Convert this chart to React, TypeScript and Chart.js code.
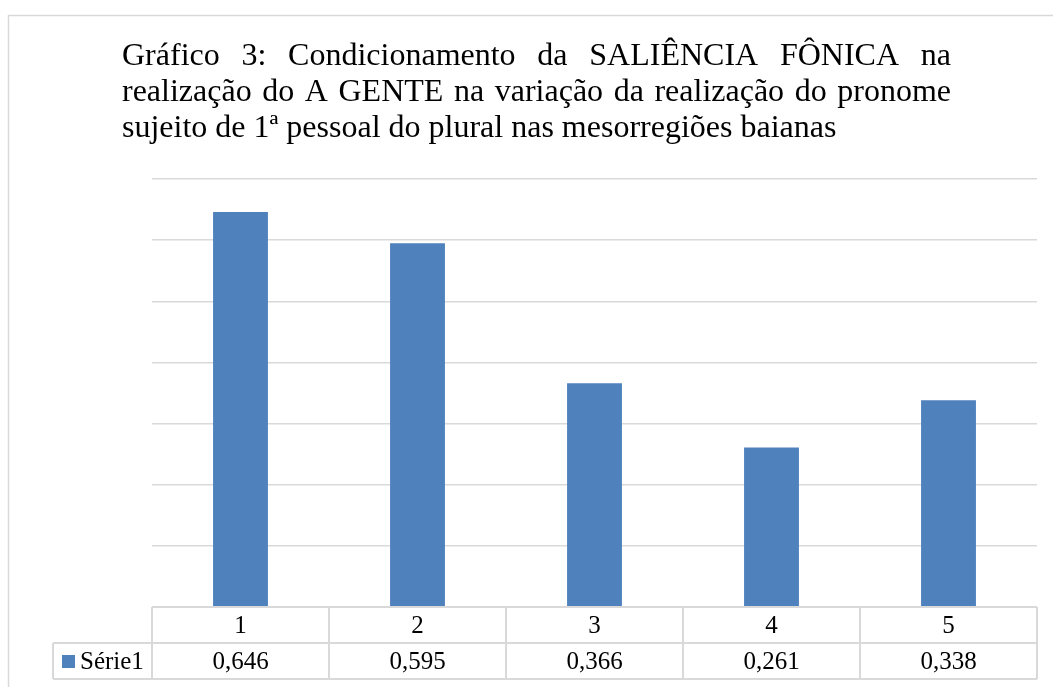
import React, { useEffect, useRef } from "react";
import { Chart, registerables } from "chart.js";

Chart.register(...registerables);

const categories = ["1", "2", "3", "4", "5"];
const values = [0.646, 0.595, 0.366, 0.261, 0.338];
const seriesName = "Série1";
const yMax = 0.7;
const yStep = 0.1;
const titleLines = [
  "Gráfico 3: Condicionamento da SALIÊNCIA FÔNICA na",
  "realização do A GENTE na variação da realização do pronome",
  "sujeito de 1ª pessoal do plural nas mesorregiões baianas",
];

const BAR_COLOR = "#4f81bd";
const LINE_COLOR = "#d9d9d9";
const SERIF = '"Liberation Serif", "Times New Roman", serif';

const fmt = (v: number) => v.toFixed(3).replace(".", ",");

const decorPlugin = {
  id: "decor",
  afterDraw(chart: any) {
    const ctx = chart.ctx as CanvasRenderingContext2D;
    const area = chart.chartArea;
    const xs = chart.scales.x;
    ctx.save();

    // outer border
    ctx.strokeStyle = LINE_COLOR;
    ctx.lineWidth = 1.5;
    ctx.strokeRect(8.5, 15.5, 1200, 800);

    // title (justified)
    ctx.fillStyle = "#000";
    ctx.font = `32px ${SERIF}`;
    ctx.textBaseline = "alphabetic";
    ctx.textAlign = "left";
    const tLeft = 122;
    const tRight = 951;
    const baselines = [65, 101, 137];
    titleLines.forEach((line, i) => {
      const words = line.split(" ");
      if (i < titleLines.length - 1) {
        const widths = words.map((w) => ctx.measureText(w).width);
        const total = widths.reduce((a, b) => a + b, 0);
        const gap = (tRight - tLeft - total) / (words.length - 1);
        let x = tLeft;
        words.forEach((w, j) => {
          ctx.fillText(w, x, baselines[i]);
          x += widths[j] + gap;
        });
      } else {
        ctx.fillText(line, tLeft, baselines[i]);
      }
    });

    // data table
    const rowH = 36;
    const top = area.bottom;
    const r1 = top + rowH;
    const r2 = r1 + rowH;
    const legLeft = 53;
    const catW = (area.right - area.left) / categories.length;
    ctx.strokeStyle = LINE_COLOR;
    ctx.lineWidth = 2;
    ctx.beginPath();
    ctx.moveTo(area.left, top);
    ctx.lineTo(area.right, top);
    ctx.moveTo(legLeft, r1);
    ctx.lineTo(area.right, r1);
    ctx.moveTo(legLeft, r2);
    ctx.lineTo(area.right, r2);
    ctx.moveTo(legLeft, r1);
    ctx.lineTo(legLeft, r2);
    for (let i = 0; i <= categories.length; i++) {
      const x = area.left + i * catW;
      ctx.moveTo(x, top);
      ctx.lineTo(x, r2);
    }
    ctx.stroke();

    ctx.fillStyle = "#000";
    ctx.font = `25px ${SERIF}`;
    ctx.textAlign = "center";
    ctx.textBaseline = "middle";
    categories.forEach((c, i) => {
      const cx = xs.getPixelForValue(i);
      ctx.fillText(c, cx, top + rowH / 2 + 1);
      ctx.fillText(fmt(values[i]), cx, r1 + rowH / 2 + 1);
    });
    // legend cell
    ctx.fillStyle = BAR_COLOR;
    ctx.fillRect(62, 655, 13, 13);
    ctx.fillStyle = "#000";
    ctx.textAlign = "left";
    ctx.fillText(seriesName, 80, r1 + rowH / 2 + 1);
    ctx.restore();
  },
};

export default function App() {
  const ref = useRef<HTMLCanvasElement | null>(null);
  useEffect(() => {
    if (!ref.current) return;
    const chart = new Chart(ref.current, {
      type: "bar",
      data: {
        labels: categories,
        datasets: [
          {
            label: seriesName,
            data: values,
            backgroundColor: BAR_COLOR,
            borderWidth: 0,
            barPercentage: 0.31,
            categoryPercentage: 1,
          },
        ],
      },
      options: {
        responsive: false,
        animation: false,
        layout: { padding: { left: 152, right: 16, top: 179, bottom: 80 } },
        plugins: { legend: { display: false }, tooltip: { enabled: false }, title: { display: false } },
        scales: {
          x: {
            grid: { display: false, drawTicks: false },
            ticks: { display: false },
            border: { display: false },
          },
          y: {
            min: 0,
            max: yMax,
            ticks: { display: false, stepSize: yStep },
            grid: { color: LINE_COLOR, lineWidth: 1.5, drawTicks: false },
            border: { display: false },
          },
        },
      },
      plugins: [decorPlugin],
    });
    return () => chart.destroy();
  }, []);
  return (
    <div style={{ position: "fixed", left: 0, top: 0, width: 1053, height: 687, background: "#fff" }}>
      <canvas ref={ref} width={1053} height={687} style={{ display: "block", width: 1053, height: 687 }} />
    </div>
  );
}
